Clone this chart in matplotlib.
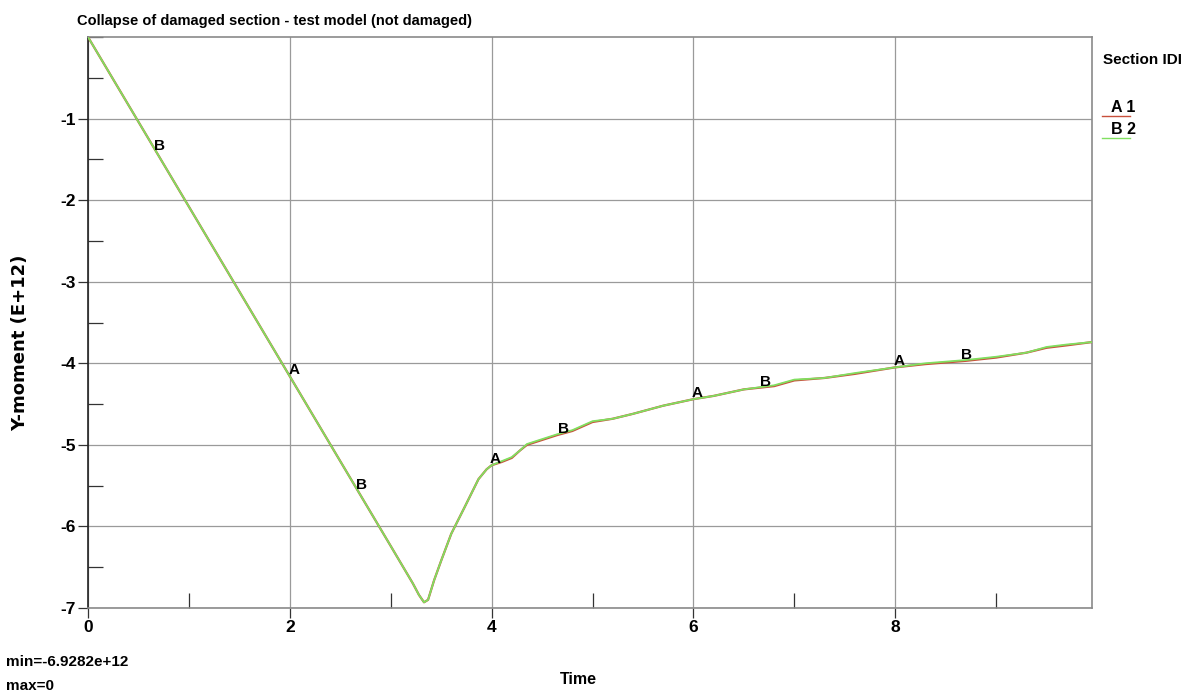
import matplotlib
matplotlib.use('Agg')
import matplotlib.pyplot as plt
from matplotlib.lines import Line2D
from matplotlib.ticker import MultipleLocator
import numpy as np

# curve (Y-moment in E+12)
time = [0.0, 1.0, 2.0, 3.0, 3.22, 3.28, 3.33, 3.37, 3.43, 3.5, 3.6, 3.73,
        3.87, 3.95, 4.0, 4.1, 4.2, 4.28, 4.35, 4.5, 4.65, 4.8, 5.0, 5.2, 5.4,
        5.7, 6.0, 6.2, 6.5, 6.8, 7.0, 7.3, 7.6, 8.0, 8.3, 8.7, 9.0, 9.3, 9.5,
        9.7, 9.95]
moment_sec1 = [0.0, -2.08, -4.16, -6.24, -6.70, -6.84, -6.93, -6.90, -6.66,
               -6.42, -6.09, -5.77, -5.42, -5.30, -5.25, -5.21, -5.16, -5.07,
               -5.00, -4.94, -4.88, -4.83, -4.72, -4.68, -4.62, -4.52, -4.44,
               -4.40, -4.32, -4.28, -4.21, -4.18, -4.13, -4.05, -4.01, -3.97,
               -3.93, -3.87, -3.81, -3.78, -3.74]
moment_sec2 = [0.0, -2.08, -4.16, -6.24, -6.70, -6.84, -6.93, -6.90, -6.66,
               -6.42, -6.09, -5.77, -5.42, -5.30, -5.25, -5.20, -5.15, -5.07,
               -4.99, -4.93, -4.87, -4.82, -4.71, -4.68, -4.62, -4.52, -4.44,
               -4.40, -4.32, -4.27, -4.20, -4.18, -4.12, -4.05, -4.00, -3.96,
               -3.92, -3.87, -3.80, -3.77, -3.74]
labels_a_time = [2.0, 4.0, 6.0, 8.0]
labels_b_time = [0.67, 2.67, 4.67, 6.67, 8.67]
sections = ['1', '2']

plt.rcParams['font.family'] = ['Liberation Sans', 'DejaVu Sans']

fig = plt.figure(figsize=(11.85, 6.96), dpi=100)
fig.patch.set_facecolor('white')
ax = fig.add_axes([88 / 1185, 1 - 608 / 696, (1092 - 88) / 1185, (608 - 37) / 696])

ax.plot(time, moment_sec1, color='#c8503c', lw=1.6, zorder=3)
ax.plot(time, moment_sec2, color='#80e060', lw=1.3, zorder=4)

for t in labels_a_time:
    ax.annotate('A', xy=(t, np.interp(t, time, moment_sec1)), xytext=(4, 6),
                textcoords='offset pixels', ha='center', va='center',
                fontsize=11, fontweight='bold', color='black', zorder=5)
for t in labels_b_time:
    ax.annotate('B', xy=(t, np.interp(t, time, moment_sec2)), xytext=(4, 5),
                textcoords='offset pixels', ha='center', va='center',
                fontsize=11, fontweight='bold', color='black', zorder=5)

ax.set_xlim(0, 9.95)
ax.set_ylim(-7, 0)
ax.xaxis.set_major_locator(MultipleLocator(2))
ax.xaxis.set_minor_locator(MultipleLocator(1))
ax.yaxis.set_minor_locator(MultipleLocator(0.5))
ax.set_yticks([-1, -2, -3, -4, -5, -6, -7])
ax.set_yticklabels(['-1', '-2', '-3', '-4', '-5', '-6', '-7'])
ax.grid(True, which='major', color='#9a9a9a', lw=0.9)
ax.tick_params(which='major', direction='out', length=7, width=0.9,
               color='#333333', labelsize=12.5, pad=2)
ax.tick_params(which='minor', direction='in', length=11, width=0.9, color='#333333')
for lab in ax.get_xticklabels() + ax.get_yticklabels():
    lab.set_fontweight('bold')
ax.spines['left'].set_color('#222222')
for s in ['top', 'right', 'bottom']:
    ax.spines[s].set_color('#8a8a8a')
for s in ax.spines.values():
    s.set_linewidth(1.2)

# texts around the plot
fig.text(77 / 1185, 1 - 21 / 696, 'Collapse of damaged section - test model (not damaged)',
         fontsize=10.5, fontweight='bold', ha='left', va='center')
fig.text(20 / 1185, 1 - 343 / 696, 'Y-moment (E+12)', rotation=90, fontsize=13,
         fontweight='bold', ha='center', va='center', family=['DejaVu Sans'])
fig.text(578 / 1185, 1 - 679 / 696, 'Time', fontsize=11.5, fontweight='bold',
         ha='center', va='center')
fig.text(6 / 1185, 1 - 662 / 696, 'min=-6.9282e+12', fontsize=11, fontweight='bold',
         ha='left', va='center')
fig.text(6 / 1185, 1 - 686 / 696, 'max=0', fontsize=11, fontweight='bold',
         ha='left', va='center')

# legend on the right
fig.text(1103 / 1185, 1 - 60 / 696, 'Section IDI', fontsize=11, fontweight='bold',
         ha='left', va='center')
leg_colors = ['#c8503c', '#80e060']
for i, (sec, col, tag) in enumerate(zip(sections, leg_colors, ['A', 'B'])):
    yc = 107 + i * 22
    fig.text(1111 / 1185, 1 - yc / 696, tag + ' ' + sec, fontsize=11.5,
             fontweight='bold', ha='left', va='center')
    fig.add_artist(Line2D([1102 / 1185, 1130 / 1185], [1 - (yc + 9) / 696] * 2,
                          color=col, lw=1.0, transform=fig.transFigure))

fig.savefig('out.png', dpi=100, facecolor='white')
plt.close(fig)
